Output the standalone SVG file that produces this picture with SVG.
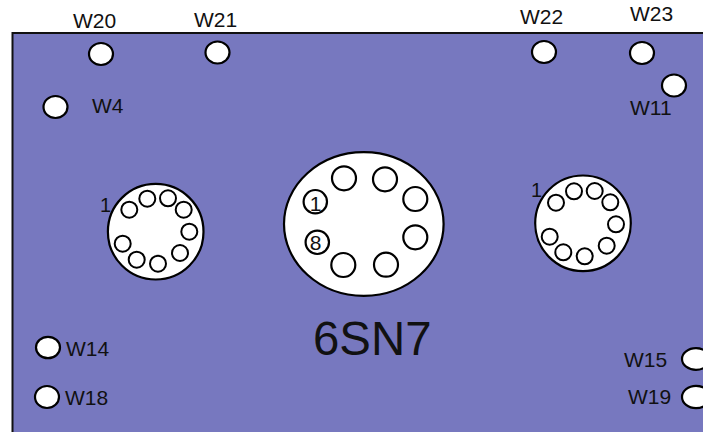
<svg xmlns="http://www.w3.org/2000/svg" width="703" height="432" viewBox="0 0 703 432">
<style>
text{font-family:"Liberation Sans",Arial,sans-serif;font-size:21px;fill:#111}
ellipse{fill:#fff;stroke:#000;stroke-width:2.2}
.pin{stroke-width:2}
.num{font-size:20px;text-anchor:middle}
</style>
<rect width="703" height="432" fill="#fff"/>
<rect id="board" x="12.5" y="33" width="720" height="430" fill="#7778bf" stroke="#111" stroke-width="2"/>
<g id="W20"><ellipse cx="101" cy="54" rx="12" ry="11"/><text x="73" y="28">W20</text></g>
<g id="W21"><ellipse cx="217.5" cy="52.5" rx="12" ry="11"/><text x="194" y="27">W21</text></g>
<g id="W4"><ellipse cx="55.5" cy="107" rx="12" ry="11"/><text x="92" y="113">W4</text></g>
<g id="W22"><ellipse cx="544" cy="52" rx="12" ry="11"/><text x="520" y="24">W22</text></g>
<g id="W23"><ellipse cx="642" cy="53" rx="12" ry="11"/><text x="630" y="21">W23</text></g>
<g id="W11"><ellipse cx="674" cy="85.5" rx="12" ry="11"/><text x="630" y="115">W11</text></g>
<g id="W14"><ellipse cx="48" cy="347.5" rx="12" ry="10.7"/><text x="66" y="356">W14</text></g>
<g id="W18"><ellipse cx="47" cy="397" rx="12" ry="11"/><text x="65" y="405">W18</text></g>
<g id="W15"><ellipse cx="696" cy="359" rx="14" ry="10.8"/><text x="624" y="367">W15</text></g>
<g id="W19"><ellipse cx="696" cy="397" rx="14" ry="11.2"/><text x="628" y="404">W19</text></g>
<g id="socket-left">
<ellipse cx="155.7" cy="231.7" rx="47.8" ry="47.8"/>
<ellipse class="pin" cx="129.3" cy="209.7" rx="8" ry="8"/>
<ellipse class="pin" cx="147.3" cy="198.7" rx="8" ry="8"/>
<ellipse class="pin" cx="168" cy="198.3" rx="8" ry="8"/>
<ellipse class="pin" cx="183.7" cy="209.7" rx="8" ry="8"/>
<ellipse class="pin" cx="189.3" cy="231.7" rx="8" ry="8"/>
<ellipse class="pin" cx="180" cy="253" rx="8" ry="8"/>
<ellipse class="pin" cx="158" cy="263.7" rx="8" ry="8"/>
<ellipse class="pin" cx="136.7" cy="259.7" rx="8" ry="8"/>
<ellipse class="pin" cx="122.7" cy="243.7" rx="8" ry="8"/>
<text class="num" x="105.5" y="212">1</text>
</g>
<g id="socket-main">
<ellipse cx="363.8" cy="224" rx="79.8" ry="71.8"/>
<ellipse cx="344" cy="178.3" rx="12" ry="12"/>
<ellipse cx="385" cy="179.3" rx="12" ry="12"/>
<ellipse cx="415.3" cy="199" rx="12" ry="12"/>
<ellipse cx="415.3" cy="237.3" rx="12" ry="12"/>
<ellipse cx="386" cy="264.7" rx="12" ry="12"/>
<ellipse cx="343.3" cy="265" rx="12" ry="12"/>
<ellipse cx="317.3" cy="242.3" rx="11.7" ry="11.7"/>
<ellipse cx="315.3" cy="201.7" rx="11.7" ry="11.7"/>
<text class="num" x="315.5" y="211" style="font-size:21px">1</text>
<text class="num" x="315.7" y="250" style="font-size:21px">8</text>
<text x="313" y="355" style="font-size:47.4px">6SN7</text>
</g>
<g id="socket-right">
<ellipse cx="583" cy="223.3" rx="47.8" ry="47.8"/>
<ellipse class="pin" cx="556" cy="202.7" rx="8" ry="8"/>
<ellipse class="pin" cx="574" cy="191.3" rx="8" ry="8"/>
<ellipse class="pin" cx="594.7" cy="191" rx="8" ry="8"/>
<ellipse class="pin" cx="610.3" cy="202.3" rx="8" ry="8"/>
<ellipse class="pin" cx="616" cy="224.3" rx="8" ry="8"/>
<ellipse class="pin" cx="606.7" cy="245.7" rx="8" ry="8"/>
<ellipse class="pin" cx="584.7" cy="256.3" rx="8" ry="8"/>
<ellipse class="pin" cx="563.3" cy="252.3" rx="8" ry="8"/>
<ellipse class="pin" cx="549.7" cy="236.7" rx="8" ry="8"/>
<text class="num" x="536.5" y="197">1</text>
</g>
</svg>
